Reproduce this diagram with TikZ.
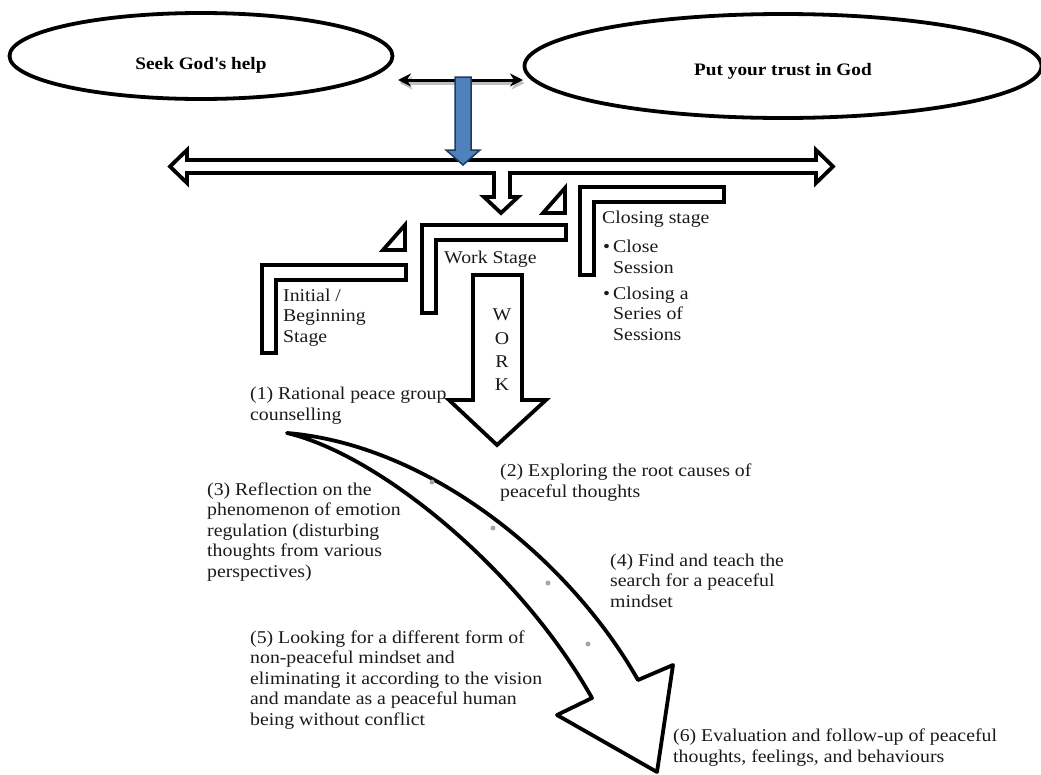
\documentclass[tikz,border=0pt]{standalone}
\usepackage{fontspec}
\setmainfont{Liberation Serif}[FakeStretch=1.1]
\usepackage{tikz}
\usetikzlibrary{arrows.meta,shapes.geometric}

\definecolor{stepblue}{HTML}{4F81BD}
\definecolor{stepnavy}{HTML}{1F3A60}
\definecolor{txtgray}{HTML}{1A1A1A}

\begin{document}
\begin{tikzpicture}[
x = 1pt, y = -1pt, % pixel grid, y runs downwards
line join = miter,
every node/.style = {font=\fontsize{18}{20.5}\selectfont, text=txtgray, inner sep=0pt}
]

\tikzstyle{oval}=[
draw = black,
line width = 3.8pt,
ellipse,
text = black,
font = \fontsize{17.5}{20.5}\selectfont\bfseries
]
\tikzstyle{outline}=[draw = black, line width = 3.8pt, fill = white]
\tikzstyle{note}=[anchor = base west, align = left] % anchored at the last line
\tikzstyle{link}=[line width = 3pt, {Stealth[length=13pt,width=13pt]}-{Stealth[length=13pt,width=13pt]}]

\useasboundingbox (0,0) rectangle (1041,774);

\node[oval, minimum width=383pt, minimum height=86pt, text height=30pt, text depth=4pt] (seek) at (201,56) {Seek God\textquotesingle s help};
\node[oval, minimum width=517pt, minimum height=104pt, text height=22pt, text depth=4pt] (trust) at (783,66) {Put your trust in God};

% link between the two ovals
\coordinate (linkl) at (398,80);
\coordinate (linkr) at (523,80);
\draw[link, black!25, transform canvas={shift={(1.5pt,-3pt)}}] (linkl) -- (linkr);
\draw[link] (linkl) -- (linkr);

% wide double arrow with branch down
\draw[outline] (170,166.5) -- (187,150) -- (187,160) -- (816,160) -- (816,150) -- (833,166.5)
  -- (816,183) -- (816,173) -- (510,173) -- (510,197) -- (518,197) -- (501,213) -- (484,197)
  -- (494,197) -- (494,173) -- (187,173) -- (187,183) -- cycle;

% blue arrow
\draw[fill=stepblue, draw=stepnavy, line width=1.5pt] (455,77) -- (471,77) -- (471,150)
  -- (480,150) -- (463,165) -- (446,150) -- (455,150) -- cycle;

% steps
\foreach \x/\y in {262/265, 422/225, 580/187}
  \draw[outline] (\x,\y) -- ++(144,0) -- ++(0,15) -- ++(-130,0) -- ++(0,73) -- ++(-14,0) -- cycle;
\foreach \x/\y in {405/250, 565/213}
  \draw[outline] (\x,\y) -- ++(-22,0) -- ++(22,-25) -- cycle;

\node[note] (initial) at (283,342) {Initial /\\Beginning\\Stage};
\node[note] (work) at (444,263) {Work Stage};
\node[note] (closing) at (602,223) {Closing stage};
\node[note] (close) at (603,273) {\makebox[10pt][l]{\textbullet}Close\\\hspace*{10pt}Session};
\node[note] (series) at (603,340) {\makebox[10pt][l]{\textbullet}Closing a\\\hspace*{10pt}Series of\\\hspace*{10pt}Sessions};

% WORK arrow
\draw[outline] (473,275) -- (522,275) -- (522,400) -- (546,400) -- (497,445) -- (449,400)
  -- (473,400) -- cycle;
\node[align=center, font=\fontsize{18}{23.3}\selectfont] (workword) at (502,350) {W\\O\\R\\K};

% curved arrow
\draw[outline, line join=round] (287,433) .. controls (430,445) and (570,560) .. (638,680)
  -- (673,665) -- (657,772) -- (557,715) -- (592,698)
  .. controls (520,570) and (380,455) .. (287,433) -- cycle;
\foreach \x/\y in {432/482, 493/528, 548/583, 588/644}
  \fill[black!35] (\x,\y) circle (2.5pt);

\node[note] (s1) at (250,420) {(1) Rational peace group\\counselling};
\node[note] (s2) at (500,497) {(2) Exploring the root causes of\\peaceful thoughts};
\node[note] (s3) at (207,577) {(3) Reflection on the\\phenomenon of emotion\\regulation (disturbing\\thoughts from various\\perspectives)};
\node[note] (s4) at (610,607) {(4) Find and teach the\\search for a peaceful\\mindset};
\node[note] (s5) at (250,725) {(5) Looking for a different form of\\non-peaceful mindset and\\eliminating it according to the vision\\and mandate as a peaceful human\\being without conflict};
\node[note] (s6) at (673,762) {(6) Evaluation and follow-up of peaceful\\thoughts, feelings, and behaviours};

\end{tikzpicture}
\end{document}
